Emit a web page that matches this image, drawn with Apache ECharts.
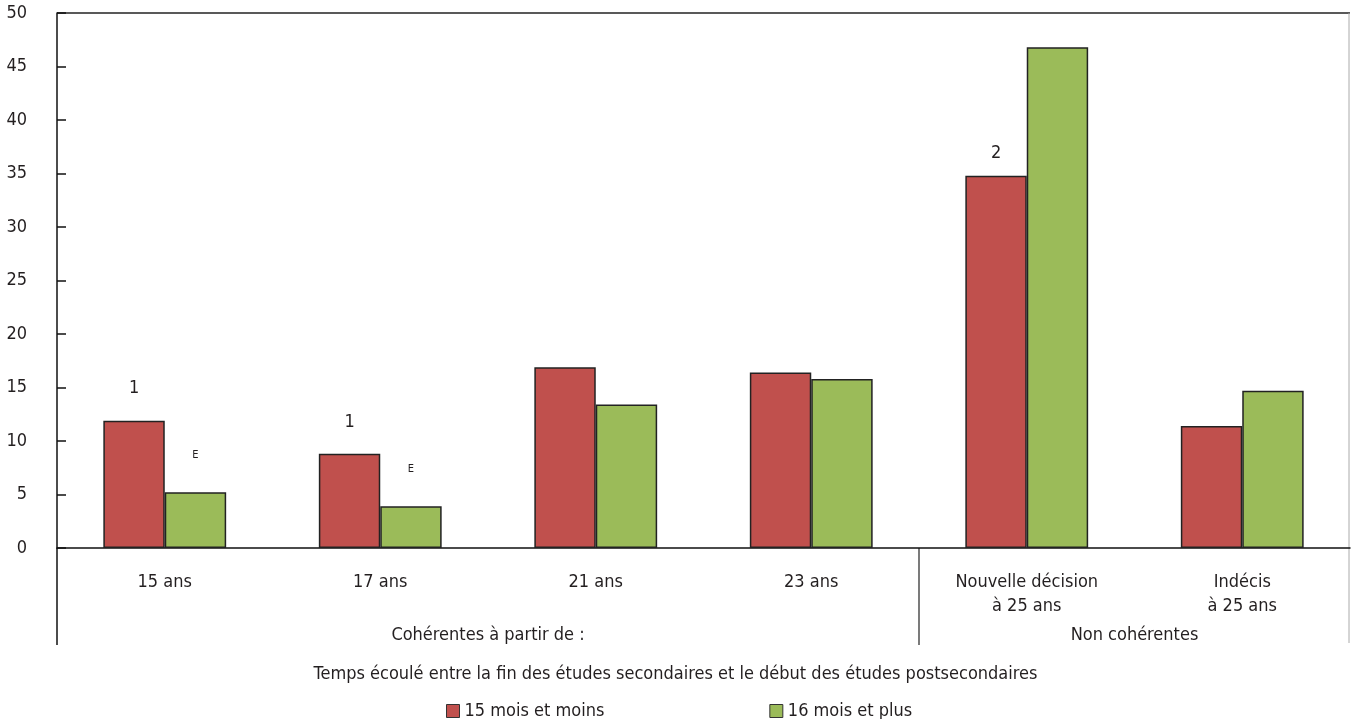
<!DOCTYPE html>
<html><head><meta charset="utf-8">
<script src="https://cdn.jsdelivr.net/npm/echarts@6/dist/echarts.min.js"></script>
<style>html,body{margin:0;padding:0;background:#fff}#c{width:1351px;height:719px}</style>
</head><body><div id="c"></div>
<script>
var categories = ['15 ans', '17 ans', '21 ans', '23 ans', 'Nouvelle décision\nà 25 ans', 'Indécis\nà 25 ans'];
var groupLabels = ['Cohérentes à partir de :', 'Non cohérentes'];
var groupSizes = [4, 2];
var seriesNames = ['15 mois et moins', '16 mois et plus'];
var valuesShort = [11.9, 8.8, 16.9, 16.4, 34.8, 11.4];
var valuesLong = [5.2, 3.9, 13.4, 15.8, 46.8, 14.7];
var notesShort = ['1', '1', '', '', '2', ''];
var notesLong = ['E', 'E', '', '', '', ''];
var axisTitle = 'Temps écoulé entre la fin des études secondaires et le début des études postsecondaires';

var FONT = "'DejaVu Sans Condensed', 'Liberation Sans Narrow', sans-serif";
var TXT = '#231f20';
var FS = 18;

function items(vals, notes, size, dist) {
  return vals.map(function (v, i) {
    var o = { value: v };
    if (notes[i]) {
      o.label = { show: true, position: 'top', formatter: notes[i], fontSize: size, fontFamily: FONT, color: TXT,
        distance: (typeof dist === 'function') ? dist(i) : dist };
    }
    return o;
  });
}

var chart = echarts.init(document.getElementById('c'));
chart.setOption({
  animation: false,
  textStyle: { fontFamily: FONT, color: TXT },
  grid: { left: 57, right: 1, top: 13, bottom: 171, containLabel: false },
  title: { text: axisTitle, left: 'center', top: 660, textStyle: { fontFamily: FONT, fontSize: FS, fontWeight: 'normal', color: TXT } },
  legend: {
    data: seriesNames, left: 441, top: 697, itemWidth: 13, itemHeight: 13, itemGap: 165, icon: 'rect',
    textStyle: { fontFamily: FONT, fontSize: FS, color: TXT }, itemStyle: { borderColor: '#333', borderWidth: 1 }
  },
  xAxis: {
    type: 'category', data: categories,
    axisLine: { show: true, lineStyle: { color: '#111', width: 1.5 } },
    axisTick: { show: false },
    axisLabel: { fontFamily: FONT, fontSize: FS, color: TXT, margin: 22, lineHeight: 24, interval: 0 }
  },
  yAxis: {
    type: 'value', min: 0, max: 50, interval: 5,
    axisLine: { show: true, lineStyle: { color: '#111', width: 1.5 } },
    axisTick: { show: true, inside: true, length: 9, lineStyle: { color: '#111', width: 1.5 } },
    splitLine: { show: false },
    axisLabel: { fontFamily: FONT, fontSize: FS, color: TXT, margin: 30 }
  },
  series: [
    { name: seriesNames[0], type: 'bar', barGap: '0%', barCategoryGap: '43%',
      itemStyle: { color: '#C0504D', borderColor: '#222', borderWidth: 1.5 },
      data: items(valuesShort, notesShort, FS, function (i) { return i === 4 ? 13 : 23; }) },
    { name: seriesNames[1], type: 'bar', barGap: '0%', barCategoryGap: '43%',
      itemStyle: { color: '#9BBB59', borderColor: '#222', borderWidth: 1.5 },
      data: items(valuesLong, notesLong, 11, 32) }
  ]
});

// frame lines and group labels, positioned from the axes
var c0 = chart.convertToPixel({ xAxisIndex: 0 }, 0);
var c1 = chart.convertToPixel({ xAxisIndex: 0 }, 1);
var w = c1 - c0;
var y0 = chart.convertToPixel({ yAxisIndex: 0 }, 0);
var yTop = chart.convertToPixel({ yAxisIndex: 0 }, 50);
var left = c0 - w / 2;
var bounds = [left];
var acc = 0;
groupSizes.forEach(function (n) { acc += n; bounds.push(left + acc * w); });
var depth = 97;
var g = [];
g.push({ type: 'line', shape: { x1: left, y1: yTop, x2: bounds[bounds.length - 1], y2: yTop }, style: { stroke: '#222', lineWidth: 1.5 } });
g.push({ type: 'line', shape: { x1: left, y1: y0, x2: left, y2: y0 + depth }, style: { stroke: '#111', lineWidth: 1.5 } });
g.push({ type: 'line', shape: { x1: bounds[1], y1: y0, x2: bounds[1], y2: y0 + depth }, style: { stroke: '#222', lineWidth: 1.2 } });
g.push({ type: 'line', shape: { x1: bounds[2] - 1, y1: yTop, x2: bounds[2] - 1, y2: y0 + depth - 2 }, style: { stroke: '#aaa', lineWidth: 1 } });
groupLabels.forEach(function (t, i) {
  g.push({ type: 'text', x: (bounds[i] + bounds[i + 1]) / 2, y: y0 + 87,
    style: { text: t, fill: TXT, font: FS + 'px ' + FONT, textAlign: 'center', textVerticalAlign: 'middle' } });
});
chart.setOption({ graphic: g });
</script>
</body></html>
